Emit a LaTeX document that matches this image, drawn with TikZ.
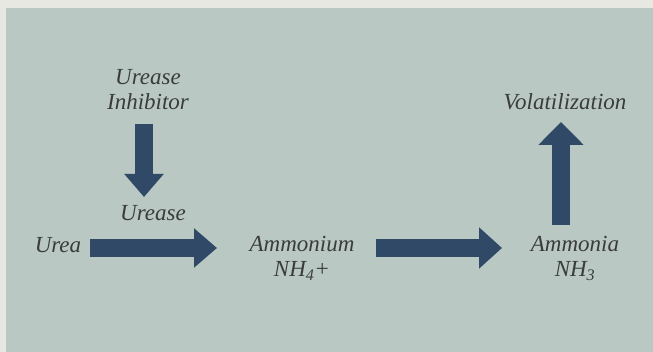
\documentclass[tikz,border=0pt]{standalone}
\usepackage{fontspec}
\setmainfont{Liberation Serif}
\usetikzlibrary{arrows.meta}
\definecolor{bgpaper}{HTML}{E8E8E2}
\definecolor{bgpanel}{HTML}{B9C8C3}
\definecolor{arrowblue}{HTML}{2F4966}
\definecolor{inkgray}{HTML}{3A3C3C}
\tikzset{
  lbl/.style={font=\fontsize{23}{25}\selectfont\itshape, text=inkgray, align=center, inner sep=0pt},
  fatarrow/.style={draw=arrowblue, line width=18pt, -{Triangle[width=#1,length=23pt]}},
}
\begin{document}
\begin{tikzpicture}[x=1pt,y=1pt]
\useasboundingbox (0,0) rectangle (653,352);
\fill[bgpaper] (0,0) rectangle (653,352);
\fill[bgpanel] (6,0) rectangle (653,344);
% labels
\node[lbl] (inhib) at (148,262) {Urease\\Inhibitor};
\node[lbl] (urease) at (153,139) {Urease};
\node[lbl] (urea) at (58,107) {Urea};
\node[lbl] (ammonium) at (302,93.5) {Ammonium\\NH\textsubscript{4}+};
\node[lbl] (ammonia) at (575,93.5) {Ammonia\\NH\textsubscript{3}};
\node[lbl] (volat) at (565,250) {Volatilization};
% arrow ends
\coordinate (a1s) at (90,104);  \coordinate (a1e) at (217,104);
\coordinate (a2s) at (376,104); \coordinate (a2e) at (502,104);
\coordinate (a3s) at (144,228); \coordinate (a3e) at (144,155);
\coordinate (a4s) at (561,127); \coordinate (a4e) at (561,230);
\draw[fatarrow=38pt] (a1s) -- (a1e);
\draw[fatarrow=40pt] (a2s) -- (a2e);
\draw[fatarrow=38pt] (a3s) -- (a3e);
\draw[fatarrow=44pt] (a4s) -- (a4e);
\end{tikzpicture}
\end{document}
